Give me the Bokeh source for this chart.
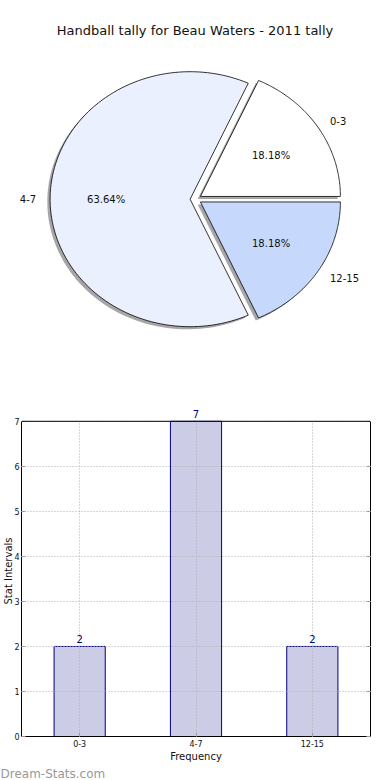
import numpy as np
from bokeh.plotting import figure
from bokeh.models import (ColumnDataSource, Range1d, FactorRange, Label, LabelSet,
                          FixedTicker, LinearAxis, Span, Title)
from bokeh.embed import file_html
from bokeh.resources import INLINE
from bokeh.core.properties import value

# ---------------- data ----------------
chart_title = "Handball tally for Beau Waters - 2011 tally"
categories = ["0-3", "4-7", "12-15"]
counts = [2, 7, 2]
pie_colors = ["#ffffff", "#eaf0fd", "#c6d9fd"]
y_ticks = [0, 1, 2, 3, 4, 5, 6, 7]
y_max = 7
x_label = "Frequency"
y_label = "Stat Intervals"
watermark = "Dream-Stats.com"

FONT = "DejaVu Sans"

# ---------------- pie (elliptical, exploded, with shadow) ----------------
W, H1 = 390, 392
RX, RY = 140.0, 127.5          # pixel radii of the (non-equal-aspect) pie
CX, CY = 195.2, 198.7          # pie centre, px from top-left of figure
EXPLODE = 0.04
SHADOW = 0.02

p1 = figure(width=W, height=H1, output_backend="svg", toolbar_location=None,
            x_range=Range1d(-CX / RX, (W - CX) / RX),
            y_range=Range1d(-(H1 - CY) / RY, CY / RY),
            x_axis_location=None, y_axis_location=None,
            min_border=0, outline_line_color=None)
p1.grid.visible = False

total = float(sum(counts))
fracs = np.array(counts) / total
starts = 2 * np.pi * np.concatenate([[0.0], np.cumsum(fracs)[:-1]])
ends = starts + 2 * np.pi * fracs
mids = (starts + ends) / 2

wx, wy, sx, sy = [], [], [], []
for a0, a1, am in zip(starts, ends, mids):
    ox, oy = EXPLODE * np.cos(am), EXPLODE * np.sin(am)
    t = np.linspace(a0, a1, 120)
    xs = np.concatenate([[ox], ox + np.cos(t)])
    ys = np.concatenate([[oy], oy + np.sin(t)])
    wx.append(list(xs)); wy.append(list(ys))
    sx.append(list(xs - SHADOW)); sy.append(list(ys - SHADOW))

p1.patches(sx, sy, fill_color="#4d4d4d", fill_alpha=0.5, line_color=None)
p1.patches(wx, wy, fill_color=pie_colors, line_color="black", line_width=0.8)

ox = EXPLODE * np.cos(mids); oy = EXPLODE * np.sin(mids)
lab_src = ColumnDataSource(dict(
    x=ox + 1.1 * np.cos(mids), y=oy + 1.1 * np.sin(mids), text=categories,
    align=["left" if c > 0 else "right" for c in np.cos(mids)]))
pct_src = ColumnDataSource(dict(
    x=ox + 0.6 * np.cos(mids), y=oy + 0.6 * np.sin(mids),
    text=["%.2f%%" % (f * 100) for f in fracs]))
p1.text(x="x", y="y", text="text", source=lab_src, text_align="align",
        text_baseline="middle", text_font=value(FONT), text_font_size="10px",
        text_color="#111111")
p1.text(x="x", y="y", text="text", source=pct_src, text_align="center",
        text_baseline="middle", text_font=value(FONT), text_font_size="10px",
        text_color="#111111")

p1.add_layout(Label(x=194.5, y=H1 - 30, x_units="screen", y_units="screen",
                    text=chart_title, text_align="center", text_baseline="middle",
                    text_font=FONT, text_font_size="13px", text_color="#111111"))

# ---------------- bar chart ----------------
H2 = 388
Y_TOP = 7.351
bar_src = ColumnDataSource(dict(cat=categories, count=counts,
                                lbl=[str(c) for c in counts]))
p2 = figure(width=W, height=H2, output_backend="svg", toolbar_location=None,
            x_range=FactorRange(*categories), y_range=Range1d(0, Y_TOP),
            min_border_top=13, min_border_right=20, min_border_bottom=38,
            min_border_left=0, outline_line_color=None)
p2.vbar(x="cat", top="count", width=0.44, source=bar_src,
        fill_color="#ccccE6", line_color="#000080", line_width=1)
p2.add_layout(LabelSet(x="cat", y="count", text="lbl", source=bar_src,
                       y_offset=3, text_align="center", text_baseline="bottom",
                       text_font=value(FONT), text_font_size="10px",
                       text_color="#000080"))

x_ax = p2.xaxis[0]
y_ax = p2.yaxis[0]
y_ax.ticker = FixedTicker(ticks=y_ticks)
y_ax.bounds = (0, y_max)
right_ax = LinearAxis(ticker=FixedTicker(ticks=y_ticks), bounds=(0, y_max),
                      major_label_overrides={t: "" for t in y_ticks},
                      major_label_standoff=0)
p2.add_layout(right_ax, "right")
p2.add_layout(Span(location=y_max, dimension="width", line_color="black",
                   line_width=1))

for ax in (x_ax, y_ax, right_ax):
    ax.major_tick_in = 4
    ax.major_tick_out = 0
    ax.minor_tick_in = 0
    ax.minor_tick_out = 0
    ax.axis_line_color = "black"
    ax.major_tick_line_color = "#999999"
for ax in (x_ax, y_ax):
    ax.major_label_text_font = FONT
    ax.major_label_text_font_size = "8px"
    ax.major_label_text_color = "#111111"
    ax.axis_label_text_font = FONT
    ax.axis_label_text_font_size = "10px"
    ax.axis_label_text_font_style = "normal"
    ax.axis_label_text_color = "#111111"
x_ax.major_label_standoff = 3
x_ax.axis_label_standoff = 1
y_ax.major_label_standoff = 2
y_ax.axis_label_standoff = -3
x_ax.axis_label = x_label
y_ax.axis_label = y_label

p2.grid.grid_line_color = "#b0b0b0"
p2.grid.grid_line_dash = "1 2"
p2.grid.grid_line_width = 1
p2.grid.level = "annotation"
p2.xgrid.cross_bounds = (0, y_max)

p2.add_layout(Title(text=watermark, align="left", offset=-21, standoff=0,
                    text_font=FONT, text_font_size="12px",
                    text_font_style="normal", text_color="#999999"), "below")

open("out.html", "w").write(file_html([p1, p2], INLINE))
